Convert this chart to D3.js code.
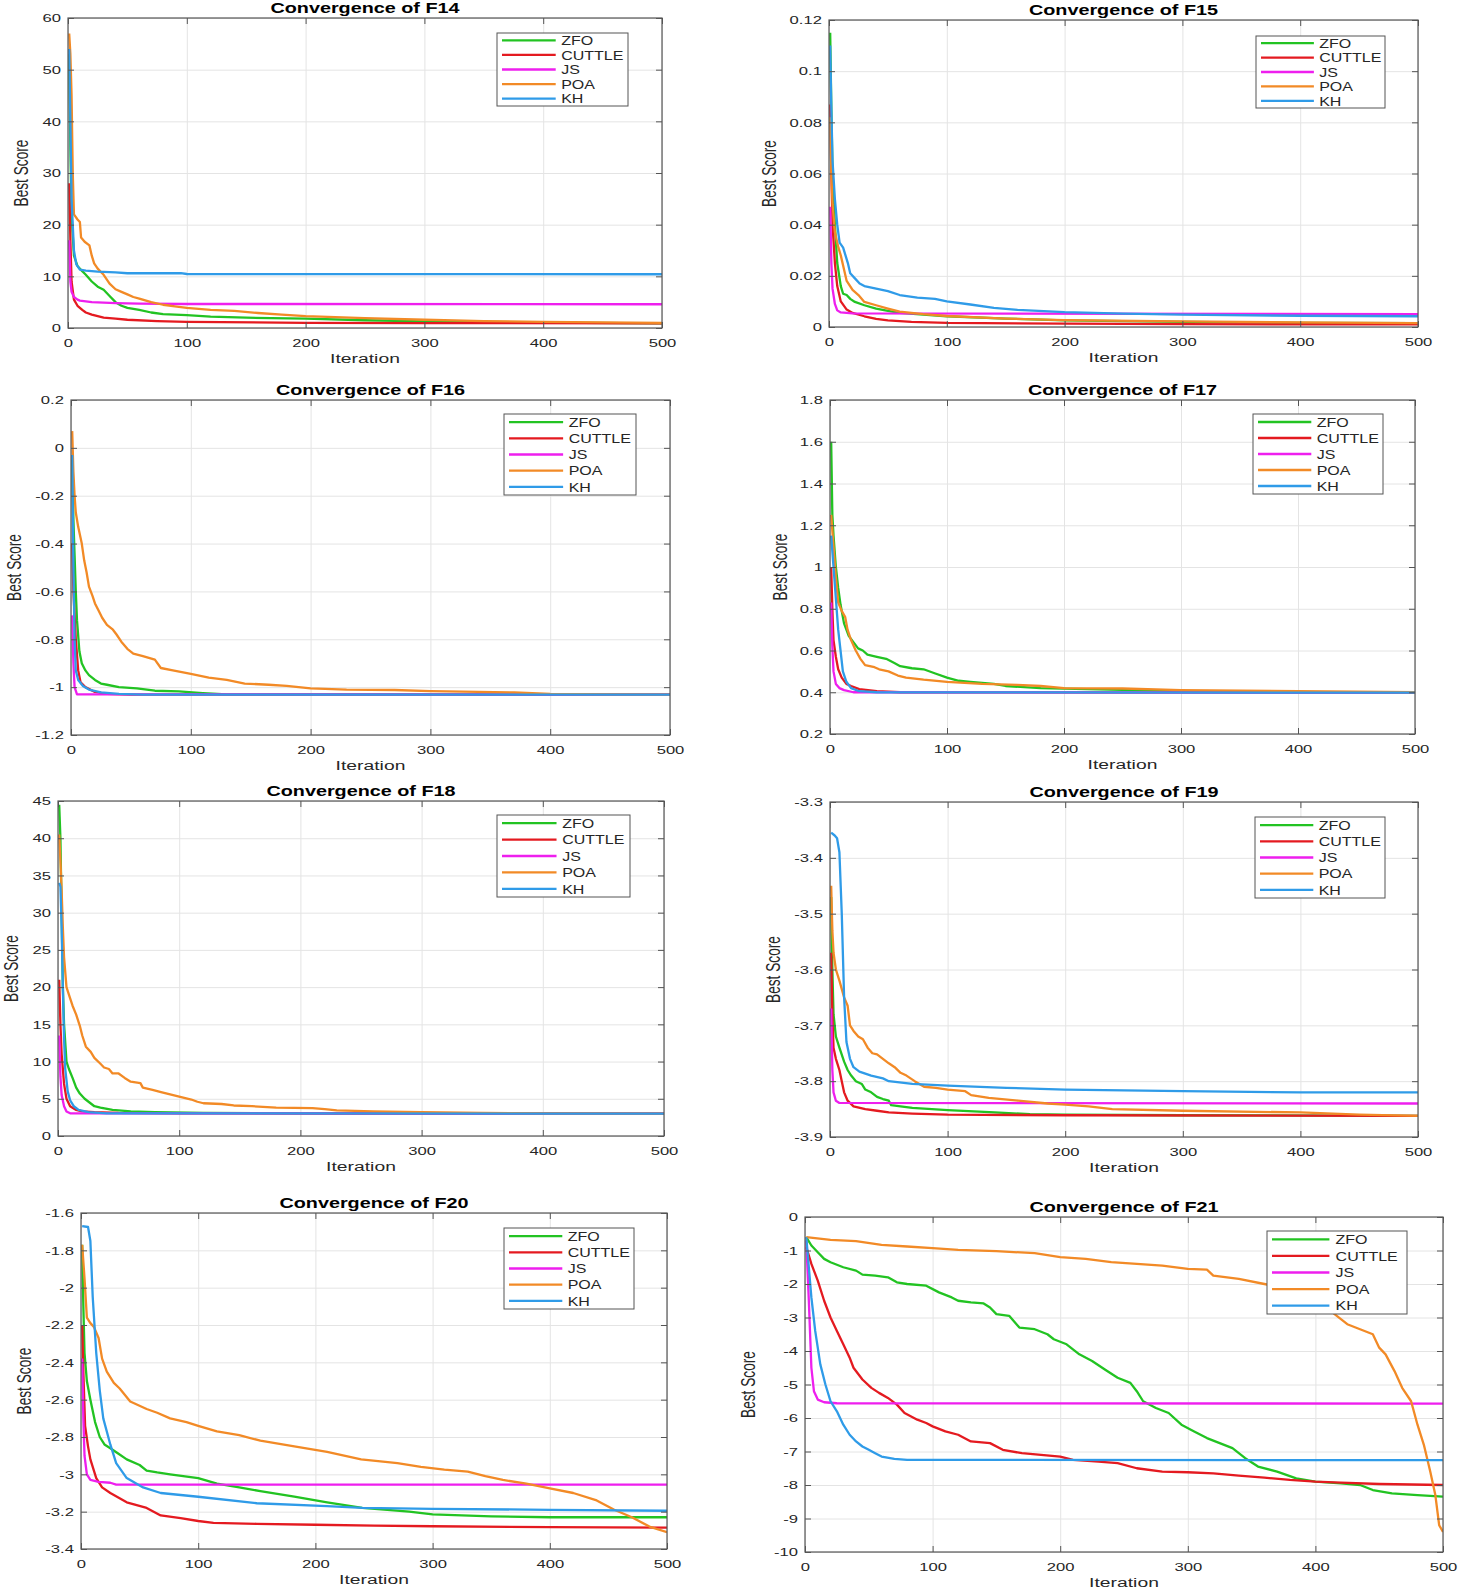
<!DOCTYPE html>
<html>
<head>
<meta charset="utf-8">
<script src="https://cdn.jsdelivr.net/npm/d3@7"></script>
<style>
  body { margin: 0; background: #fff; }
  svg { display: block; font-family: "Liberation Sans", Arial, sans-serif; }
</style>
</head>
<body>
<div id="chart"></div>
<script>
// ---- data ----
const seriesNames = ["ZFO", "CUTTLE", "JS", "POA", "KH"];
const iterTicks = [0, 100, 200, 300, 400, 500];

const f14Ticks = [0, 10, 20, 30, 40, 50, 60];
const f15Ticks = [0, 0.02, 0.04, 0.06, 0.08, 0.1, 0.12];
const f16Ticks = [-1.2, -1, -0.8, -0.6, -0.4, -0.2, 0, 0.2];
const f17Ticks = [0.2, 0.4, 0.6, 0.8, 1, 1.2, 1.4, 1.6, 1.8];
const f18Ticks = [0, 5, 10, 15, 20, 25, 30, 35, 40, 45];
const f19Ticks = [-3.9, -3.8, -3.7, -3.6, -3.5, -3.4, -3.3];
const f20Ticks = [-3.4, -3.2, -3, -2.8, -2.6, -2.4, -2.2, -2, -1.8, -1.6];
const f21Ticks = [-10, -9, -8, -7, -6, -5, -4, -3, -2, -1, 0];

// [iteration, best score]
const f14Zfo = [[1,53],[2,35],[3,22],[5,14],[8,12],[12,11],[15,10.3],[20,9],[25,8],[30,7.4],[35,6.2],[40,5],[45,4.3],[50,3.9],[60,3.5],[70,3],[80,2.7],[100,2.5],[120,2.2],[150,2],[200,1.8],[250,1.5],[300,1.3],[400,1.05],[500,0.9]];
const f14Cuttle = [[1,28],[2,17],[3,9],[5,5.5],[8,4.3],[12,3.5],[15,3],[20,2.6],[25,2.3],[30,2],[40,1.8],[50,1.6],[75,1.35],[100,1.2],[200,1.0],[300,0.95],[500,0.9]];
const f14Js = [[1,17],[2,9],[3,7],[5,6],[8,5.5],[10,5.3],[20,5],[40,4.8],[60,4.7],[100,4.65],[500,4.6]];
const f14Poa = [[1,57],[2,53],[3,45],[4,30],[5,22],[8,21],[10,20.5],[11,17.5],[14,16.7],[18,16],[20,14],[22,12.5],[25,11.5],[30,10.3],[35,8.6],[40,7.5],[45,7],[50,6.5],[55,6],[60,5.7],[70,5],[80,4.5],[90,4.2],[100,3.9],[110,3.7],[120,3.5],[140,3.3],[160,2.9],[180,2.6],[200,2.3],[250,1.9],[300,1.6],[350,1.35],[400,1.2],[450,1.1],[500,1.0]];
const f14Kh = [[1,54],[2,40],[3,25],[5,15],[7,12.3],[10,11.3],[15,11.1],[25,10.9],[40,10.75],[50,10.6],[95,10.6],[100,10.45],[500,10.4]];

const f15Zfo = [[1,0.115],[2,0.085],[3,0.06],[5,0.04],[7,0.025],[10,0.016],[12,0.013],[15,0.0125],[18,0.011],[22,0.0098],[30,0.0085],[40,0.0072],[50,0.0063],[60,0.0055],[80,0.0048],[100,0.0042],[150,0.0033],[200,0.0026],[300,0.002],[400,0.0016],[500,0.0015]];
const f15Cuttle = [[1,0.087],[2,0.06],[3,0.04],[5,0.025],[7,0.016],[10,0.01],[15,0.0068],[20,0.0055],[30,0.0042],[40,0.0032],[50,0.0026],[70,0.002],[100,0.0016],[200,0.0013],[300,0.0011],[500,0.001]];
const f15Js = [[1,0.047],[2,0.025],[3,0.015],[5,0.009],[7,0.0065],[10,0.0057],[20,0.0053],[500,0.005]];
const f15Poa = [[1,0.082],[2,0.06],[3,0.048],[5,0.037],[8,0.031],[10,0.028],[13,0.022],[15,0.018],[20,0.0145],[25,0.0125],[30,0.0098],[40,0.0085],[50,0.0072],[60,0.006],[80,0.005],[100,0.0043],[150,0.0033],[200,0.0027],[300,0.0022],[400,0.0018],[500,0.0015]];
const f15Kh = [[1,0.11],[2,0.085],[3,0.065],[5,0.05],[7,0.04],[9,0.033],[12,0.031],[14,0.028],[16,0.025],[18,0.021],[22,0.019],[26,0.017],[30,0.016],[40,0.015],[45,0.0145],[50,0.014],[60,0.0125],[75,0.0115],[90,0.011],[100,0.01],[120,0.0088],[140,0.0075],[160,0.0067],[200,0.0058],[250,0.0052],[300,0.0048],[400,0.0044],[500,0.0042]];

const f16Zfo = [[1,-0.05],[2,-0.3],[3,-0.45],[4,-0.6],[5,-0.72],[7,-0.85],[9,-0.9],[12,-0.93],[15,-0.95],[20,-0.97],[25,-0.985],[30,-0.99],[40,-1.0],[55,-1.005],[70,-1.015],[90,-1.018],[110,-1.025],[130,-1.03],[500,-1.0316]];
const f16Cuttle = [[1,-0.4],[2,-0.6],[4,-0.8],[6,-0.93],[8,-0.98],[12,-1.0],[20,-1.02],[30,-1.028],[50,-1.031],[500,-1.0316]];
const f16Js = [[1,-0.7],[2,-0.9],[3,-1.0],[5,-1.03],[500,-1.0316]];
const f16Poa = [[1,0.07],[2,-0.1],[3,-0.2],[4,-0.27],[6,-0.33],[9,-0.4],[11,-0.47],[13,-0.52],[15,-0.58],[18,-0.62],[20,-0.65],[23,-0.68],[26,-0.71],[30,-0.74],[35,-0.76],[38,-0.78],[42,-0.81],[47,-0.84],[52,-0.86],[60,-0.87],[70,-0.885],[75,-0.92],[85,-0.93],[100,-0.945],[115,-0.96],[130,-0.97],[145,-0.985],[165,-0.99],[180,-0.995],[200,-1.005],[230,-1.01],[270,-1.012],[300,-1.017],[340,-1.02],[370,-1.022],[400,-1.028],[450,-1.03],[500,-1.0316]];
const f16Kh = [[1,-0.03],[2,-0.5],[3,-0.8],[4,-0.93],[6,-0.97],[10,-0.995],[15,-1.01],[25,-1.022],[40,-1.028],[60,-1.031],[500,-1.0316]];

const f17Zfo = [[1,1.6],[2,1.25],[3,1.15],[5,1.0],[7,0.9],[9,0.82],[12,0.73],[14,0.7],[16,0.67],[20,0.64],[24,0.61],[28,0.6],[32,0.58],[40,0.57],[48,0.56],[55,0.54],[60,0.525],[70,0.515],[80,0.51],[90,0.49],[100,0.47],[110,0.455],[120,0.45],[140,0.44],[150,0.43],[180,0.42],[220,0.415],[300,0.405],[400,0.4],[500,0.398]];
const f17Cuttle = [[1,1.0],[2,0.8],[3,0.65],[5,0.57],[7,0.51],[10,0.47],[14,0.44],[18,0.43],[25,0.415],[40,0.405],[60,0.4],[500,0.3979]];
const f17Js = [[1,0.83],[2,0.62],[3,0.5],[5,0.44],[8,0.42],[12,0.41],[20,0.4],[500,0.3979]];
const f17Poa = [[1,1.25],[3,1.1],[5,0.95],[7,0.83],[10,0.79],[13,0.76],[15,0.7],[18,0.65],[22,0.6],[26,0.56],[30,0.53],[38,0.52],[42,0.51],[50,0.5],[58,0.48],[65,0.47],[80,0.46],[100,0.45],[130,0.44],[160,0.435],[180,0.43],[200,0.42],[250,0.418],[300,0.41],[400,0.405],[500,0.4]];
const f17Kh = [[1,1.15],[3,1.0],[5,0.85],[7,0.7],[9,0.6],[11,0.5],[14,0.45],[18,0.42],[25,0.405],[40,0.4],[500,0.3979]];

const f18Zfo = [[1,44.5],[2,40],[3,30],[4,20],[5,15],[7,10],[9,9],[12,7.8],[15,6.5],[18,5.7],[22,5],[26,4.5],[30,4],[35,3.8],[45,3.5],[60,3.3],[80,3.2],[120,3.1],[200,3.05],[500,3.0]];
const f18Cuttle = [[1,21],[2,15],[3,11],[5,7],[7,5],[10,4],[15,3.5],[20,3.3],[30,3.2],[50,3.1],[100,3.05],[500,3.0]];
const f18Js = [[1,13.5],[2,8],[3,5.5],[5,4],[7,3.3],[10,3.05],[500,3.0]];
const f18Poa = [[1,40.5],[2,37],[3,33],[4,28],[5,24],[7,20],[9,19],[12,17.5],[15,16.3],[18,14.8],[20,13.5],[23,12],[27,11.3],[30,10.5],[35,9.7],[38,9.2],[42,9],[45,8.4],[50,8.4],[55,7.8],[60,7.3],[68,7.1],[70,6.5],[78,6.2],[85,5.9],[90,5.7],[100,5.3],[110,4.9],[115,4.6],[120,4.4],[135,4.3],[145,4.1],[160,4.0],[180,3.8],[210,3.75],[220,3.6],[230,3.45],[260,3.3],[300,3.2],[350,3.1],[400,3.05],[500,3.0]];
const f18Kh = [[1,34],[2,33.5],[3,28],[4,20],[5,13],[6,9],[8,6],[10,4.8],[13,4],[17,3.5],[25,3.2],[40,3.05],[500,3.0]];

const f19Zfo = [[1,-3.47],[2,-3.6],[3,-3.68],[5,-3.72],[8,-3.74],[12,-3.765],[15,-3.78],[18,-3.79],[22,-3.8],[27,-3.805],[30,-3.815],[35,-3.82],[40,-3.828],[45,-3.832],[50,-3.835],[52,-3.843],[60,-3.845],[70,-3.848],[100,-3.852],[140,-3.856],[170,-3.859],[200,-3.86],[300,-3.861],[500,-3.862]];
const f19Cuttle = [[1,-3.57],[2,-3.68],[3,-3.74],[5,-3.76],[8,-3.78],[10,-3.8],[12,-3.82],[15,-3.835],[20,-3.845],[30,-3.85],[40,-3.853],[50,-3.856],[70,-3.858],[100,-3.86],[200,-3.861],[500,-3.862]];
const f19Js = [[1,-3.67],[2,-3.78],[3,-3.82],[5,-3.835],[8,-3.839],[500,-3.84]];
const f19Poa = [[1,-3.45],[2,-3.53],[3,-3.57],[5,-3.6],[8,-3.62],[12,-3.65],[15,-3.665],[17,-3.7],[20,-3.71],[24,-3.72],[28,-3.725],[32,-3.74],[36,-3.75],[40,-3.752],[45,-3.76],[50,-3.768],[55,-3.775],[60,-3.785],[65,-3.79],[72,-3.8],[80,-3.81],[90,-3.812],[100,-3.815],[115,-3.818],[120,-3.825],[135,-3.83],[160,-3.835],[185,-3.84],[200,-3.842],[220,-3.845],[240,-3.85],[300,-3.853],[400,-3.856],[450,-3.86],[500,-3.862]];
const f19Kh = [[1,-3.355],[4,-3.36],[6,-3.365],[8,-3.39],[10,-3.5],[12,-3.65],[14,-3.73],[17,-3.76],[20,-3.775],[25,-3.783],[35,-3.79],[45,-3.795],[50,-3.8],[70,-3.805],[100,-3.808],[150,-3.812],[200,-3.815],[300,-3.818],[400,-3.82],[500,-3.82]];

const f20Zfo = [[1,-1.77],[2,-2.1],[3,-2.35],[5,-2.5],[8,-2.6],[12,-2.72],[16,-2.8],[20,-2.84],[25,-2.86],[32,-2.89],[39,-2.92],[50,-2.95],[56,-2.98],[65,-2.99],[76,-3.0],[100,-3.02],[116,-3.05],[135,-3.07],[153,-3.09],[182,-3.12],[210,-3.15],[240,-3.18],[280,-3.2],[300,-3.215],[350,-3.225],[400,-3.23],[500,-3.23]];
const f20Cuttle = [[1,-2.2],[2,-2.45],[3.5,-2.74],[6,-2.85],[8,-2.92],[13,-3.02],[18,-3.07],[25,-3.1],[39,-3.15],[56,-3.18],[68,-3.22],[85,-3.235],[100,-3.25],[113,-3.26],[150,-3.265],[200,-3.27],[250,-3.275],[300,-3.278],[400,-3.283],[500,-3.285]];
const f20Js = [[1,-2.38],[2,-2.7],[3,-2.9],[5,-3.0],[8,-3.03],[15,-3.04],[25,-3.045],[30,-3.055],[500,-3.055]];
const f20Poa = [[1,-1.77],[3,-1.95],[5,-2.16],[8,-2.19],[11,-2.21],[15,-2.27],[18,-2.38],[22,-2.45],[28,-2.51],[33,-2.54],[42,-2.61],[56,-2.65],[65,-2.67],[76,-2.7],[90,-2.72],[100,-2.74],[116,-2.77],[135,-2.79],[153,-2.82],[182,-2.85],[210,-2.88],[239,-2.92],[270,-2.94],[290,-2.96],[310,-2.975],[330,-2.985],[345,-3.01],[360,-3.03],[380,-3.05],[400,-3.075],[420,-3.1],[440,-3.14],[455,-3.19],[470,-3.23],[485,-3.28],[500,-3.31]];
const f20Kh = [[1,-1.67],[6,-1.675],[8,-1.75],[10,-2.05],[13,-2.35],[16,-2.55],[19,-2.7],[25,-2.84],[30,-2.94],[39,-3.02],[53,-3.07],[68,-3.1],[100,-3.12],[150,-3.155],[210,-3.17],[240,-3.18],[300,-3.185],[400,-3.19],[500,-3.195]];

const f21Zfo = [[1,-0.6],[5,-0.85],[10,-1.05],[15,-1.25],[20,-1.35],[30,-1.5],[40,-1.6],[45,-1.72],[55,-1.75],[65,-1.8],[72,-1.95],[80,-2.0],[95,-2.05],[105,-2.25],[115,-2.4],[120,-2.5],[130,-2.55],[140,-2.58],[145,-2.7],[150,-2.9],[160,-2.95],[168,-3.3],[180,-3.35],[190,-3.5],[195,-3.65],[205,-3.8],[215,-4.1],[225,-4.3],[235,-4.55],[245,-4.8],[255,-4.95],[260,-5.2],[265,-5.5],[275,-5.7],[285,-5.85],[295,-6.2],[305,-6.4],[315,-6.6],[325,-6.75],[335,-6.9],[345,-7.2],[355,-7.45],[370,-7.6],[385,-7.8],[400,-7.9],[420,-7.95],[435,-8.0],[445,-8.15],[460,-8.25],[480,-8.3],[500,-8.35]];
const f21Cuttle = [[1,-0.9],[5,-1.4],[10,-1.9],[15,-2.5],[20,-3.0],[25,-3.4],[30,-3.8],[35,-4.2],[38,-4.5],[45,-4.85],[52,-5.1],[58,-5.25],[65,-5.4],[72,-5.6],[78,-5.85],[88,-6.05],[95,-6.15],[100,-6.25],[110,-6.4],[120,-6.5],[130,-6.7],[145,-6.75],[155,-6.95],[170,-7.05],[185,-7.1],[200,-7.15],[210,-7.25],[230,-7.3],[245,-7.35],[260,-7.5],[280,-7.6],[300,-7.62],[320,-7.65],[340,-7.72],[360,-7.78],[380,-7.85],[400,-7.9],[420,-7.93],[450,-7.97],[500,-8.0]];
const f21Js = [[1,-0.7],[3,-2.5],[5,-4.5],[7,-5.2],[10,-5.45],[15,-5.53],[25,-5.56],[500,-5.57]];
const f21Poa = [[1,-0.6],[20,-0.68],[40,-0.72],[60,-0.83],[80,-0.88],[100,-0.93],[120,-0.98],[150,-1.02],[180,-1.08],[200,-1.2],[220,-1.25],[240,-1.35],[260,-1.4],[280,-1.45],[300,-1.55],[315,-1.57],[320,-1.75],[340,-1.85],[360,-2.0],[380,-2.15],[395,-2.3],[405,-2.5],[415,-2.9],[425,-3.2],[435,-3.35],[445,-3.5],[450,-3.9],[455,-4.1],[462,-4.6],[468,-5.1],[475,-5.5],[480,-6.2],[485,-6.8],[490,-7.6],[494,-8.3],[497,-9.2],[500,-9.4]];
const f21Kh = [[1,-0.6],[3,-1.5],[5,-2.4],[8,-3.4],[12,-4.4],[16,-5.0],[20,-5.5],[25,-5.8],[30,-6.2],[35,-6.5],[40,-6.7],[45,-6.85],[50,-6.95],[55,-7.05],[60,-7.15],[70,-7.22],[80,-7.25],[500,-7.26]];

// ---- styling / layout ----
const seriesColors = ["#22c322", "#e41a20", "#ee1fee", "#f28a26", "#2f9be8"];
const textColor = "#262626";
const boxColor = "#555";

// the reference figure is stretched sideways, so text gets a horizontal scale
const tickFont = { size: 11.7, sx: 1.42 };
const labelFont = { size: 13.7, sx: 1.41 };
const titleFont = { size: 15, sx: 1.32 };
const legendFont = { size: 13, sx: 1.23 };

const panels = [
  { title: "Convergence of F14", ticks: f14Ticks, series: [f14Zfo, f14Cuttle, f14Js, f14Poa, f14Kh],
    left: 68, right: 662, top: 18, bottom: 328, yLabelX: 22, legend: [497, 33, 131, 73] },
  { title: "Convergence of F15", ticks: f15Ticks, series: [f15Zfo, f15Cuttle, f15Js, f15Poa, f15Kh],
    left: 829, right: 1418, top: 20, bottom: 327, yLabelX: 770, legend: [1256, 36, 129, 72] },
  { title: "Convergence of F16", ticks: f16Ticks, series: [f16Zfo, f16Cuttle, f16Js, f16Poa, f16Kh],
    left: 71, right: 670, top: 400, bottom: 735, yLabelX: 15, legend: [504, 414, 132, 81] },
  { title: "Convergence of F17", ticks: f17Ticks, series: [f17Zfo, f17Cuttle, f17Js, f17Poa, f17Kh],
    left: 830, right: 1415, top: 400, bottom: 734, yLabelX: 781, legend: [1253, 414, 130, 80] },
  { title: "Convergence of F18", ticks: f18Ticks, series: [f18Zfo, f18Cuttle, f18Js, f18Poa, f18Kh],
    left: 58, right: 664, top: 801, bottom: 1136, yLabelX: 12, legend: [497, 815, 133, 82] },
  { title: "Convergence of F19", ticks: f19Ticks, series: [f19Zfo, f19Cuttle, f19Js, f19Poa, f19Kh],
    left: 830, right: 1418, top: 802, bottom: 1137, yLabelX: 774, legend: [1255, 817, 130, 81] },
  { title: "Convergence of F20", ticks: f20Ticks, series: [f20Zfo, f20Cuttle, f20Js, f20Poa, f20Kh],
    left: 81, right: 667, top: 1213, bottom: 1549, yLabelX: 25, legend: [504, 1228, 130, 81] },
  { title: "Convergence of F21", ticks: f21Ticks, series: [f21Zfo, f21Cuttle, f21Js, f21Poa, f21Kh],
    left: 805, right: 1443, top: 1217, bottom: 1552, yLabelX: 749, legend: [1267, 1231, 140, 83] }
];

const svg = d3.select("#chart")
  .append("svg")
  .attr("width", 1464)
  .attr("height", 1594);

const fmt = d => String(d);

panels.forEach((p, i) => {
  const g = svg.append("g");
  const w = p.right - p.left;
  const h = p.bottom - p.top;

  const x = d3.scaleLinear().domain([0, 500]).range([p.left, p.right]);
  const y = d3.scaleLinear().domain(d3.extent(p.ticks)).range([p.bottom, p.top]);

  // grid
  g.append("g")
    .attr("transform", `translate(0,${p.bottom})`)
    .call(d3.axisBottom(x).tickValues(iterTicks).tickSize(-h).tickFormat(""))
    .call(s => s.select(".domain").remove())
    .selectAll("line").attr("stroke", "#e4e4e4");
  g.append("g")
    .attr("transform", `translate(${p.left},0)`)
    .call(d3.axisLeft(y).tickValues(p.ticks).tickSize(-w).tickFormat(""))
    .call(s => s.select(".domain").remove())
    .selectAll("line").attr("stroke", "#e4e4e4");

  // series
  const clipId = "clip" + i;
  g.append("clipPath").attr("id", clipId)
    .append("rect").attr("x", p.left).attr("y", p.top).attr("width", w).attr("height", h);

  const line = d3.line().x(d => x(d[0])).y(d => y(d[1]));
  g.append("g").attr("clip-path", `url(#${clipId})`)
    .selectAll("path")
    .data(p.series)
    .join("path")
    .attr("d", line)
    .attr("fill", "none")
    .attr("stroke", (d, k) => seriesColors[k])
    .attr("stroke-width", 2.3)
    .attr("stroke-linejoin", "round");

  // box
  g.append("rect")
    .attr("x", p.left).attr("y", p.top).attr("width", w).attr("height", h)
    .attr("fill", "none").attr("stroke", boxColor).attr("stroke-width", 1.2);

  // axes, ticks pointing inward
  const styleAxis = s => {
    s.select(".domain").remove();
    s.selectAll("line").attr("stroke", boxColor);
    s.selectAll("text")
      .attr("fill", textColor)
      .style("font-size", tickFont.size + "px")
      .attr("transform", `scale(${tickFont.sx},1)`);
  };
  g.append("g")
    .attr("transform", `translate(0,${p.bottom})`)
    .call(d3.axisBottom(x).tickValues(iterTicks).tickSizeInner(-6).tickSizeOuter(0).tickPadding(11).tickFormat(fmt))
    .call(styleAxis);
  g.append("g")
    .attr("transform", `translate(${p.left},0)`)
    .call(d3.axisLeft(y).tickValues(p.ticks).tickSizeInner(-6).tickSizeOuter(0).tickPadding(5).tickFormat(fmt))
    .call(styleAxis);
  g.append("g")
    .attr("transform", `translate(0,${p.top})`)
    .call(d3.axisTop(x).tickValues(iterTicks).tickSizeInner(-6).tickSizeOuter(0).tickFormat(""))
    .call(styleAxis);
  g.append("g")
    .attr("transform", `translate(${p.right},0)`)
    .call(d3.axisRight(y).tickValues(p.ticks).tickSizeInner(-6).tickSizeOuter(0).tickFormat(""))
    .call(styleAxis);

  // title
  g.append("text")
    .attr("transform", `translate(${(p.left + p.right) / 2},${p.top - 5}) scale(${titleFont.sx},1)`)
    .attr("text-anchor", "middle")
    .style("font-size", titleFont.size + "px")
    .style("font-weight", "bold")
    .attr("fill", "#000")
    .text(p.title);

  // axis labels
  g.append("text")
    .attr("transform", `translate(${(p.left + p.right) / 2},${p.bottom + 35}) scale(${labelFont.sx},1)`)
    .attr("text-anchor", "middle")
    .style("font-size", labelFont.size + "px")
    .attr("fill", textColor)
    .text("Iteration");
  g.append("text")
    .attr("transform", `translate(${p.yLabelX + 6},${(p.top + p.bottom) / 2}) scale(${labelFont.sx},1) rotate(-90)`)
    .attr("text-anchor", "middle")
    .style("font-size", labelFont.size + "px")
    .attr("fill", textColor)
    .text("Best Score");

  // legend
  const [lx, ly, lw, lh] = p.legend;
  const lg = g.append("g");
  lg.append("rect")
    .attr("x", lx).attr("y", ly).attr("width", lw).attr("height", lh)
    .attr("fill", "#fff").attr("stroke", boxColor).attr("stroke-width", 1);
  const rowH = lh / seriesNames.length;
  seriesNames.forEach((name, k) => {
    const cy = ly + rowH * (k + 0.5);
    lg.append("line")
      .attr("x1", lx + 5).attr("x2", lx + 5 + lw * 0.41)
      .attr("y1", cy).attr("y2", cy)
      .attr("stroke", seriesColors[k]).attr("stroke-width", 2.3);
    lg.append("text")
      .attr("transform", `translate(${lx + lw * 0.49},${cy + 4.7}) scale(${legendFont.sx},1)`)
      .style("font-size", legendFont.size + "px")
      .attr("fill", textColor)
      .text(name);
  });
});
</script>
</body>
</html>
